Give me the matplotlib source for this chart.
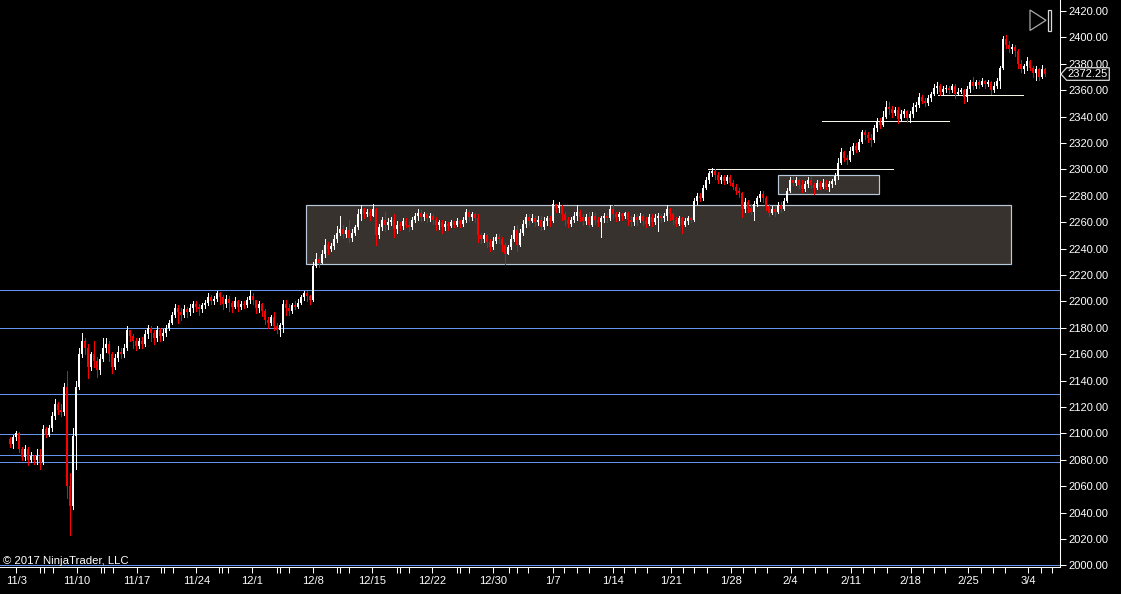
import numpy as np
import matplotlib
matplotlib.use("Agg")
import matplotlib.pyplot as plt
from matplotlib.patches import Polygon, Rectangle
from matplotlib.ticker import FormatStrFormatter

plt.rcParams["font.family"] = ["Liberation Sans", "DejaVu Sans"]

# ---- data (one candle per entry, open = previous close) ----
first_open = 2096
closes = [
    2092, 2097, 2100, 2088, 2082, 2088, 2080, 2083, 2080, 2083,
    2078, 2103, 2099, 2104, 2113, 2122, 2118, 2116, 2135, 2060,
    2045, 2098, 2135, 2160, 2170, 2165, 2150, 2160, 2155, 2148,
    2156, 2165, 2168, 2160, 2150, 2157, 2162, 2160, 2165, 2178,
    2174, 2170, 2166, 2170, 2168, 2175, 2180, 2176, 2172, 2178,
    2174, 2176, 2180, 2184, 2190, 2195, 2192, 2190, 2194, 2192,
    2195, 2198, 2196, 2194, 2197, 2199, 2203, 2200, 2202, 2206,
    2203, 2198, 2202, 2199, 2196, 2200, 2196, 2198, 2197, 2201,
    2204, 2201, 2195, 2198, 2193, 2186, 2184, 2188, 2181, 2178,
    2182, 2198, 2195, 2193, 2197, 2196, 2199, 2203, 2206, 2204,
    2201, 2227, 2232, 2229, 2236, 2243, 2240, 2242, 2247, 2252,
    2255, 2251, 2254, 2248, 2252, 2256, 2266, 2270, 2266, 2268,
    2265, 2270, 2250, 2256, 2262, 2258, 2260, 2262, 2255, 2258,
    2257, 2261, 2258, 2256, 2262, 2265, 2267, 2264, 2266, 2263,
    2265, 2262, 2258, 2260, 2256, 2259, 2257, 2260, 2258, 2261,
    2259, 2262, 2268, 2264, 2266, 2263, 2250, 2247, 2250, 2245,
    2241, 2246, 2249, 2247, 2243, 2236, 2241, 2247, 2254, 2243,
    2252, 2259, 2264, 2261, 2263, 2260, 2262, 2256, 2261, 2263,
    2261, 2274, 2271, 2272, 2266, 2262, 2259, 2262, 2265, 2268,
    2264, 2261, 2264, 2258, 2265, 2262, 2260, 2263, 2265, 2263,
    2270, 2266, 2264, 2266, 2265, 2267, 2262, 2260, 2264, 2262,
    2265, 2261, 2259, 2264, 2260, 2263, 2265, 2263, 2265, 2270,
    2266, 2262, 2259, 2263, 2258, 2261, 2263, 2262, 2276, 2280,
    2278, 2286, 2292, 2297, 2299, 2296, 2292, 2294, 2291, 2294,
    2290, 2287, 2284, 2282, 2270, 2275, 2271, 2268, 2274, 2278,
    2281, 2278, 2272, 2267, 2270, 2268, 2273, 2270, 2276, 2284,
    2292, 2290, 2292, 2288, 2285, 2289, 2292, 2288, 2286, 2290,
    2287, 2290, 2287, 2289, 2291, 2295, 2305, 2313, 2309, 2307,
    2314, 2318, 2315, 2321, 2328, 2326, 2324, 2322, 2331, 2336,
    2334, 2340, 2347, 2346, 2343, 2345, 2338, 2342, 2344, 2339,
    2342, 2347, 2349, 2355, 2352, 2350, 2354, 2357, 2362, 2363,
    2359, 2361, 2362, 2360, 2363, 2357, 2359, 2360, 2355, 2361,
    2366, 2363, 2366, 2364, 2367, 2365, 2366, 2360, 2363, 2367,
    2377, 2399, 2394, 2391, 2393, 2390, 2380, 2376, 2378, 2382,
    2377, 2373, 2376, 2370, 2376, 2372.25,
]
highs = [
    2097, 2099, 2102, 2101, 2090, 2091, 2090, 2086, 2084, 2088,
    2088, 2106, 2105, 2106, 2116, 2126, 2124, 2122, 2138, 2147,
    2070, 2104, 2140, 2165, 2176, 2172, 2168, 2162, 2170, 2158,
    2160, 2172, 2172, 2170, 2162, 2160, 2166, 2165, 2168, 2181,
    2178, 2175, 2172, 2172, 2173, 2178, 2182, 2181, 2178, 2181,
    2180, 2179, 2182, 2186, 2192, 2198, 2197, 2195, 2197, 2196,
    2198, 2200, 2200, 2198, 2199, 2201, 2206, 2205, 2204, 2208,
    2207, 2205, 2205, 2204, 2200, 2203, 2201, 2200, 2200, 2203,
    2209, 2206, 2201, 2200, 2199, 2194, 2188, 2190, 2192, 2184,
    2184, 2201, 2201, 2198, 2199, 2200, 2202, 2205, 2208, 2208,
    2205, 2230, 2237, 2234, 2239, 2247, 2245, 2244, 2250, 2257,
    2265, 2258, 2256, 2262, 2255, 2258, 2270, 2273, 2271, 2270,
    2270, 2274, 2271, 2259, 2264, 2268, 2263, 2264, 2266, 2261,
    2260, 2263, 2263, 2261, 2264, 2267, 2270, 2269, 2268, 2267,
    2267, 2266, 2264, 2262, 2262, 2261, 2260, 2262, 2261, 2263,
    2262, 2264, 2270, 2269, 2268, 2267, 2266, 2252, 2252, 2251,
    2247, 2249, 2251, 2251, 2249, 2244, 2243, 2250, 2257, 2258,
    2255, 2262, 2266, 2266, 2266, 2265, 2265, 2265, 2264, 2265,
    2265, 2277, 2274, 2275, 2273, 2268, 2264, 2264, 2268, 2273,
    2269, 2266, 2266, 2268, 2268, 2267, 2264, 2265, 2267, 2267,
    2273, 2273, 2268, 2268, 2267, 2268, 2268, 2265, 2266, 2266,
    2267, 2266, 2264, 2266, 2266, 2266, 2267, 2266, 2267, 2273,
    2271, 2267, 2264, 2265, 2264, 2263, 2265, 2264, 2278, 2282,
    2282, 2288, 2294, 2299, 2301, 2300, 2298, 2296, 2296, 2296,
    2296, 2292, 2289, 2286, 2283, 2278, 2277, 2274, 2276, 2280,
    2284, 2284, 2280, 2274, 2272, 2272, 2275, 2275, 2278, 2286,
    2294, 2295, 2294, 2293, 2292, 2291, 2294, 2295, 2290, 2292,
    2291, 2293, 2292, 2291, 2293, 2297, 2309, 2316, 2314, 2311,
    2317, 2320, 2320, 2323, 2330, 2330, 2328, 2327, 2334, 2339,
    2339, 2344, 2352, 2351, 2348, 2347, 2347, 2345, 2346, 2345,
    2344, 2350, 2351, 2358, 2356, 2354, 2356, 2359, 2365, 2366,
    2365, 2363, 2364, 2363, 2365, 2365, 2362, 2362, 2361, 2363,
    2368, 2370, 2368, 2368, 2369, 2368, 2368, 2367, 2366, 2369,
    2378, 2401, 2402, 2397, 2395, 2394, 2391, 2383, 2380, 2385,
    2383, 2378, 2378, 2377, 2379, 2377,
]
lows = [
    2090, 2089, 2095, 2086, 2080, 2080, 2076, 2078, 2077, 2077,
    2073, 2077, 2097, 2098, 2102, 2111, 2115, 2113, 2114, 2051,
    2023, 2043, 2073, 2134, 2158, 2160, 2142, 2148, 2150, 2143,
    2145, 2155, 2162, 2155, 2146, 2149, 2155, 2157, 2158, 2163,
    2170, 2165, 2163, 2165, 2165, 2166, 2172, 2170, 2168, 2170,
    2170, 2171, 2174, 2178, 2183, 2188, 2184, 2186, 2188, 2188,
    2190, 2192, 2193, 2190, 2192, 2195, 2197, 2198, 2198, 2200,
    2198, 2194, 2196, 2193, 2192, 2195, 2193, 2194, 2195, 2196,
    2199, 2198, 2191, 2192, 2189, 2183, 2180, 2182, 2178, 2176,
    2174, 2177, 2190, 2190, 2191, 2194, 2195, 2198, 2201, 2200,
    2198, 2200, 2226, 2226, 2230, 2234, 2236, 2238, 2240, 2245,
    2250, 2248, 2249, 2245, 2246, 2250, 2255, 2262, 2263, 2265,
    2262, 2266, 2243, 2248, 2254, 2253, 2255, 2258, 2249, 2252,
    2254, 2255, 2256, 2253, 2255, 2260, 2262, 2261, 2262, 2260,
    2261, 2259, 2254, 2255, 2252, 2254, 2254, 2256, 2256, 2257,
    2256, 2257, 2260, 2261, 2262, 2260, 2245, 2244, 2245, 2241,
    2238, 2240, 2244, 2244, 2238, 2228, 2236, 2240, 2246, 2238,
    2242, 2250, 2256, 2258, 2260, 2257, 2258, 2254, 2255, 2258,
    2257, 2260, 2268, 2268, 2262, 2258, 2256, 2257, 2260, 2262,
    2261, 2258, 2259, 2256, 2257, 2259, 2257, 2249, 2260, 2260,
    2262, 2263, 2261, 2262, 2262, 2263, 2258, 2257, 2258, 2258,
    2260, 2258, 2256, 2258, 2257, 2259, 2253, 2260, 2261, 2262,
    2262, 2259, 2257, 2258, 2252, 2257, 2259, 2260, 2261, 2274,
    2276, 2277, 2285, 2290, 2295, 2293, 2290, 2290, 2289, 2290,
    2288, 2285, 2281, 2279, 2264, 2268, 2268, 2266, 2262, 2272,
    2276, 2275, 2269, 2265, 2266, 2265, 2267, 2268, 2269, 2275,
    2283, 2288, 2288, 2286, 2283, 2284, 2287, 2286, 2281, 2285,
    2285, 2286, 2285, 2284, 2287, 2289, 2293, 2304, 2306, 2304,
    2306, 2312, 2313, 2314, 2320, 2323, 2321, 2318, 2321, 2329,
    2331, 2333, 2339, 2342, 2340, 2341, 2335, 2337, 2340, 2336,
    2336, 2340, 2344, 2347, 2350, 2348, 2349, 2352, 2356, 2358,
    2356, 2357, 2359, 2358, 2359, 2354, 2356, 2358, 2350, 2352,
    2359, 2361, 2362, 2362, 2363, 2362, 2363, 2357, 2359, 2362,
    2362, 2376, 2392, 2389, 2388, 2386, 2377, 2374, 2373, 2375,
    2375, 2370, 2368, 2368, 2369, 2371,
]

# date labels (bar index where each label sits) and the extra day ticks
week_pos = [2.1, 22.3, 42.3, 62.1, 80.7, 101.0, 120.8, 140.8, 161.0,
            180.9, 200.9, 220.2, 240.2, 260.2, 280.2, 300.2, 319.4, 339.4]
week_labels = ["11/3", "11/10", "11/17", "11/24", "12/1", "12/8", "12/15",
               "12/22", "12/30", "1/7", "1/14", "1/21", "1/28", "2/4",
               "2/11", "2/18", "2/25", "3/4"]
day_pos = [10.1, 11.2, 14.2, 30.2, 31.2, 34.3, 50.2, 51.2, 54.3, 69.6,
           70.5, 72.6, 88.9, 90.0, 92.9, 108.9, 110.0, 113.0, 129.0, 130.0,
           132.9, 149.0, 150.1, 153.0, 166.3, 169.0, 172.7, 184.8, 188.9,
           193.0, 204.8, 208.3, 212.2, 224.2, 228.1, 232.2, 244.2, 248.3,
           252.2, 264.2, 268.3, 272.2, 284.2, 288.1, 292.2, 304.2, 308.1,
           311.7, 323.7, 327.6, 331.7, 343.6, 347.4]

# drawn objects: horizontal levels, zones and short level segments
blue_levels = [2208.4, 2179.5, 2129.6, 2099.3, 2083.4, 2078.1, 2000.4]
zones = [  # (bar from, bar to, price low, price high)
    (98.8, 333.6, 2228.2, 2273.4),
    (256.1, 289.8, 2281.1, 2295.5),
]
segments = [  # (bar from, bar to, price)
    (232.8, 294.3, 2300.1),
    (270.8, 312.9, 2336.4),
    (309.4, 337.8, 2356.1),
]
last_price = 2372.25

# ---- figure ----
W, H = 1121, 594
fig = plt.figure(figsize=(W / 100, H / 100), dpi=100, facecolor="black")
ax = fig.add_axes([0, 27 / H, 1060 / W, 567 / H])
ax.set_facecolor("black")

n = len(closes)
x = np.arange(n)
c = np.array(closes, dtype=float)
o = np.concatenate([[first_open], c[:-1]])
h = np.maximum(np.array(highs, dtype=float), np.maximum(o, c))
l = np.minimum(np.array(lows, dtype=float), np.minimum(o, c))
up = c >= o
cols = np.where(up, "white", "#ff0000")

for lev in blue_levels:
    ax.axhline(lev, color="#6495ed", lw=0.72, zorder=1, antialiased=False)

for x0, x1, p0, p1 in zones:
    ax.add_patch(Rectangle((x0, p0), x1 - x0, p1 - p0, facecolor="#37322d",
                           edgecolor="#b9c9dc", lw=0.85, zorder=1.5))

for x0, x1, p in segments:
    ax.plot([x0, x1], [p, p], color="#f6f4e4", lw=0.72, zorder=2,
            antialiased=False)

ax.vlines(x, l, h, colors=cols, lw=0.7, zorder=3, antialiased=False)
body_lo = np.minimum(o, c)
body_h = np.maximum(np.abs(c - o), 0.8)
ax.bar(x, body_h, bottom=body_lo, width=0.62, color=cols, lw=0, zorder=3,
       antialiased=False)

ax.set_xlim(-10 / 3, 350)
ax.set_ylim(2420 - 556 / 1.32, 2420 + 11 / 1.32)

# axes styling
for s in ("top", "left"):
    ax.spines[s].set_visible(False)
for s in ("right", "bottom"):
    ax.spines[s].set_color("white")
    ax.spines[s].set_linewidth(0.75)

ax.yaxis.tick_right()
ax.set_yticks(np.arange(2000, 2421, 20))
ax.yaxis.set_major_formatter(FormatStrFormatter("%.2f"))
ax.tick_params(axis="y", colors="white", length=4.3, width=0.75, pad=1.5,
               labelsize=8)

ax.set_xticks(week_pos)
ax.set_xticklabels(week_labels)
ax.set_xticks(day_pos, minor=True)
ax.tick_params(axis="x", which="both", colors="white", length=4.3,
               width=0.75, pad=2.0, labelsize=8)

# last price marker on the price axis
tr = ax.get_yaxis_transform()
hh = 6.3 / 1.32
marker = Polygon([(1.0009, last_price), (1.0063, last_price + hh),
                  (1.0465, last_price + hh), (1.0465, last_price - hh),
                  (1.0063, last_price - hh)], closed=True, transform=tr,
                 facecolor="black", edgecolor="#d8d8d8", lw=0.9,
                 clip_on=False, zorder=10)
ax.add_patch(marker)
ax.text(1.0264, last_price, f"{last_price:.2f}", transform=tr, color="white",
        fontsize=8, ha="center", va="center", clip_on=False, zorder=11)


def px(xp, yp):
    return (xp / W, 1 - yp / H)


# play-to-end button
fig.patches.append(Polygon([px(1030, 10), px(1030, 30.5), px(1046, 20.3)],
                           closed=True, transform=fig.transFigure,
                           fill=False, edgecolor="#a8a8a8", lw=0.9))
fig.patches.append(Polygon([px(1047.5, 10), px(1050.5, 10), px(1050.5, 30.5),
                            px(1047.5, 30.5)], closed=True,
                           transform=fig.transFigure, fill=False,
                           edgecolor="#d8d8d8", lw=0.9))

fig.text(3 / W, 1 - 564.5 / H, "\u00a9 2017 NinjaTrader, LLC", color="white",
         fontsize=8.2, ha="left", va="baseline")

fig.savefig("out.png", dpi=100, facecolor="black")
